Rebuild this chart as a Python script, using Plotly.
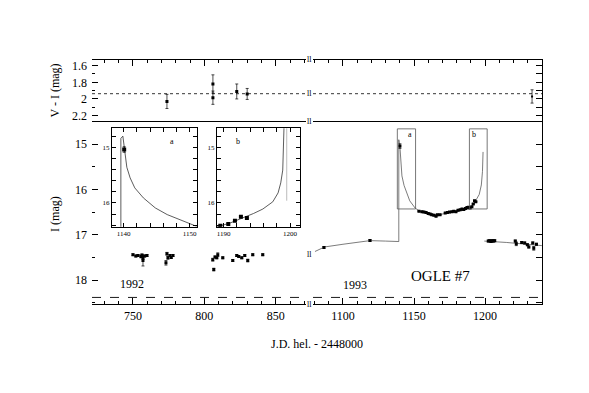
import plotly.graph_objects as go

W, H = 589, 393
FONT = "Liberation Serif"

# ------------------ data ------------------
# V - I colour, 1992 season (left) and 1993 season (right)
vi_jd_92 = [773.8, 806.0, 806.0, 822.7, 830.0]
vi_92 = [2.03, 1.82, 1.985, 1.91, 1.94]
vi_err_92 = [0.085, 0.11, 0.08, 0.09, 0.066]
vi_jd_93 = [1233.1]
vi_93 = [1.97]
vi_err_93 = [0.08]
vi_mean = 1.937

# I photometry, 1992
i_jd_92 = [750.0, 752.0, 753.5, 755.6, 756.3, 757.0, 757.0, 758.2, 759.8,
           773.1, 773.8, 774.5, 775.9, 776.8, 778.0,
           805.9, 806.6, 807.5, 808.7, 809.4, 812.9,
           819.9, 822.7, 824.1, 826.2, 828.3, 830.4, 833.9, 840.9]
i_92 = [17.44, 17.47, 17.46, 17.48, 17.45, 17.51, 17.57, 17.47, 17.46,
        17.62, 17.42, 17.51, 17.46, 17.50, 17.46,
        17.55, 17.77, 17.49, 17.51, 17.44, 17.51,
        17.57, 17.46, 17.48, 17.51, 17.46, 17.57, 17.44, 17.44]
i_err_92 = [0.02, 0.02, 0.02, 0.03, 0.02, 0.03, 0.12, 0.02, 0.02,
            0.05, 0.03, 0.03, 0.02, 0.02, 0.02,
            0.03, 0.03, 0.02, 0.02, 0.04, 0.02,
            0.02, 0.02, 0.02, 0.02, 0.02, 0.03, 0.02, 0.02]

# I photometry, 1993
i_jd_93 = [1086.6, 1119.0, 1140.1,
           1153.5, 1155.6, 1157.0, 1158.5, 1160.0, 1161.3, 1162.5, 1164.0,
           1165.5, 1166.5, 1168.3, 1172.0, 1173.5, 1175.0, 1176.8, 1178.0,
           1179.5, 1181.0, 1182.5, 1183.8, 1185.0, 1186.2, 1187.3, 1188.4,
           1189.5, 1190.7, 1191.7, 1192.6, 1193.5,
           1202.3, 1203.3, 1204.2, 1205.0, 1205.8, 1206.8,
           1221.3, 1222.0, 1225.8, 1227.9, 1229.8, 1230.8, 1233.6, 1234.3, 1236.2]
i_93 = [17.28, 17.125, 15.04,
        16.48, 16.49, 16.50, 16.51, 16.53, 16.54, 16.56, 16.57,
        16.59, 16.56, 16.56, 16.52, 16.51, 16.50, 16.49, 16.48,
        16.49, 16.46, 16.45, 16.43, 16.44, 16.42, 16.40, 16.39,
        16.41, 16.38, 16.32, 16.25, 16.27,
        17.14, 17.13, 17.15, 17.13, 17.14, 17.13,
        17.14, 17.20, 17.17, 17.18, 17.22, 17.27, 17.18, 17.30, 17.21]
i_err_93 = [0.02, 0.02, 0.05] + [0.01] * 29 + [0.02] * 6 + \
           [0.02, 0.04, 0.02, 0.02, 0.02, 0.02, 0.02, 0.04, 0.02]

# binary-lens model, fine sampling (insets)
model_jd = [1139.6, 1139.6, 1139.9, 1140.2, 1140.5, 1141.0, 1141.7, 1143.0, 1144.8,
            1146.6, 1148.6, 1150.8, 1154.0, 1158.0, 1163.0, 1168.0, 1173.0,
            1178.0, 1182.0, 1186.0, 1189.0, 1191.0, 1193.0, 1194.5, 1195.9,
            1197.4, 1198.2, 1198.6, 1198.9, 1199.0, 1199.1, 1199.15]
model_I = [17.15, 14.84, 14.80, 15.11, 15.36, 15.55, 15.73, 15.91, 16.09,
           16.21, 16.30, 16.41, 16.48, 16.52, 16.55, 16.55, 16.53,
           16.50, 16.47, 16.44, 16.43, 16.36, 16.27, 16.19, 16.11,
           15.98, 15.82, 15.64, 15.41, 15.10, 14.66, 14.40]
drop_jd = [1199.5, 1199.5]
drop_I = [14.40, 15.96]

# binary-lens model, coarse sampling (main panel)
main_jd = [1080.3, 1087.0, 1100.0, 1110.0, 1119.0, 1130.0, 1139.3,
           1139.3, 1140.2, 1141.5, 1143.0, 1147.0, 1150.8, 1154.0, 1158.0,
           1163.0, 1168.0, 1173.0, 1178.0, 1182.0, 1186.0, 1189.0, 1191.0,
           1193.0, 1195.9, 1197.4, 1198.2, 1198.6]
main_I = [17.37, 17.27, 17.21, 17.16, 17.13, 17.14, 17.15,
          14.90, 15.11, 15.70, 15.91, 16.25, 16.41, 16.48, 16.52,
          16.55, 16.55, 16.53, 16.50, 16.47, 16.44, 16.43, 16.36,
          16.27, 16.11, 15.90, 15.60, 15.17]
post_jd = [1199.5, 1215.0, 1240.0]
post_I = [17.14, 17.17, 17.24]

baseline_I = 18.385

left_range = [721.3, 871.2]
right_range = [1078.9, 1240.1]
vi_range = [2.27, 1.528]
i_range = [18.54, 14.495]
inset_a_range = [1138.26, 1151.1]
inset_b_range = [1189.0, 1201.5]
inset_i_range = [16.43, 14.66]


# ------------------ helpers ------------------
def pts(x, y, err, xa, ya, size=3.0):
    return go.Scatter(
        x=x, y=y, mode="markers", xaxis=xa, yaxis=ya,
        marker=dict(symbol="square", size=size, color="black"),
        error_y=dict(type="data", array=err, width=1.5, thickness=0.7, color="black"),
        showlegend=False, hoverinfo="skip")


def line(x, y, xa, ya, color="#444444", width=0.7):
    return go.Scatter(x=x, y=y, mode="lines", xaxis=xa, yaxis=ya,
                      line=dict(color=color, width=width),
                      showlegend=False, hoverinfo="skip")


def ax(**kw):
    base = dict(showgrid=False, zeroline=False, ticks="inside", tickcolor="black",
                tickwidth=1, linecolor="black", linewidth=1,
                tickfont=dict(family=FONT, size=12, color="black"))
    base.update(kw)
    return base


def minor(dt, ln=3):
    return dict(dtick=dt, ticklen=ln, ticks="inside", tickcolor="black", tickwidth=1)


left_dom = [92 / W, 306 / W]
right_dom = [313 / W, 542 / W]
vi_dom = [1 - 121 / H, 1 - 59 / H]
i_dom = [1 - 305 / H, 1 - 121 / H]
ins_y_dom = [1 - 227 / H, 1 - 128 / H]

fig = go.Figure()

# V - I
fig.add_trace(pts(vi_jd_92, vi_92, vi_err_92, "x3", "y", size=3))
fig.add_trace(pts(vi_jd_93, vi_93, vi_err_93, "x4", "y3", size=2))

# I, main panels
fig.add_trace(pts(i_jd_92, i_92, i_err_92, "x", "y2"))
fig.add_trace(line(main_jd, main_I, "x2", "y4"))
fig.add_trace(line(post_jd, post_I, "x2", "y4"))
fig.add_trace(pts(i_jd_93, i_93, i_err_93, "x2", "y4"))

# insets
for xa, ya in [("x5", "y5"), ("x6", "y6")]:
    fig.add_trace(line(model_jd, model_I, xa, ya, color="#333333", width=0.8))
    fig.add_trace(line(drop_jd, drop_I, xa, ya, color="#bbbbbb", width=1))
    fig.add_trace(pts(i_jd_93, i_93, i_err_93, xa, ya, size=4))

ins_font = dict(family=FONT, size=7, color="black")

fig.update_layout(
    width=W, height=H,
    margin=dict(l=0, r=0, t=0, b=0),
    paper_bgcolor="white", plot_bgcolor="white",
    showlegend=False,
    xaxis=ax(domain=left_dom, range=left_range, anchor="y2", showline=True,
             dtick=50, ticklen=6, minor=minor(10)),
    xaxis2=ax(domain=right_dom, range=right_range, anchor="y4", showline=True,
              dtick=50, ticklen=6, minor=minor(10)),
    xaxis3=ax(domain=left_dom, range=left_range, matches="x", anchor="y", side="top",
              showline=True, mirror=True, showticklabels=False,
              dtick=50, ticklen=6, minor=minor(10)),
    xaxis4=ax(domain=right_dom, range=right_range, matches="x2", anchor="y3", side="top",
              showline=True, mirror=True, showticklabels=False,
              dtick=50, ticklen=6, minor=minor(10)),
    yaxis=ax(domain=vi_dom, range=vi_range, anchor="x3", showline=False,
             dtick=0.2, ticklen=6, minor=minor(0.1), ticklabelstandoff=4),
    yaxis2=ax(domain=i_dom, range=i_range, anchor="x", showline=False,
              dtick=1, ticklen=6, minor=minor(0.5), ticklabelstandoff=4),
    yaxis3=ax(domain=vi_dom, range=vi_range, matches="y", anchor="x4", side="right",
              showline=True, showticklabels=False, dtick=0.1, ticklen=6),
    yaxis4=ax(domain=i_dom, range=i_range, matches="y2", anchor="x2", side="right",
              showline=True, showticklabels=False, dtick=0.5, ticklen=6),
    xaxis5=ax(domain=[112 / W, 197 / W], range=inset_a_range, anchor="y5",
              showline=True, mirror="ticks", tickvals=[1140, 1150], ticklen=4,
              minor=minor(2, 4), tickfont=ins_font),
    yaxis5=ax(domain=ins_y_dom, range=inset_i_range, anchor="x5",
              showline=True, mirror="ticks", tickvals=[15, 16], ticklen=4,
              minor=minor(0.2, 4), tickfont=ins_font),
    xaxis6=ax(domain=[217 / W, 300 / W], range=inset_b_range, anchor="y6",
              showline=True, mirror="ticks", tickvals=[1190, 1200], ticklen=4,
              minor=minor(2, 4), tickfont=ins_font),
    yaxis6=ax(domain=ins_y_dom, range=inset_i_range, anchor="x6",
              showline=True, mirror="ticks", tickvals=[15, 16], ticklen=4,
              minor=minor(0.2, 4), tickfont=ins_font),
)

# reference lines
fig.add_shape(type="line", xref="x3 domain", yref="y", x0=0, x1=1, y0=vi_mean, y1=vi_mean,
              line=dict(color="black", width=0.8, dash="dot"))
fig.add_shape(type="line", xref="x4 domain", yref="y3", x0=0, x1=1, y0=vi_mean, y1=vi_mean,
              line=dict(color="black", width=0.8, dash="dot"))
fig.add_shape(type="line", xref="x domain", yref="y2", x0=0, x1=1, y0=baseline_I, y1=baseline_I,
              line=dict(color="black", width=0.9, dash="dash"))
fig.add_shape(type="line", xref="x2 domain", yref="y4", x0=0, x1=1, y0=baseline_I, y1=baseline_I,
              line=dict(color="black", width=0.9, dash="dash"))

# inset boxes on the main light curve
for rng in (inset_a_range, inset_b_range):
    fig.add_shape(type="rect", xref="x2", yref="y4", x0=rng[0], x1=rng[1],
                  y0=inset_i_range[0], y1=inset_i_range[1],
                  line=dict(color="#555555", width=0.8))


def note(text, x, y, xref="paper", yref="paper", size=12, angle=0):
    fig.add_annotation(xref=xref, yref=yref, x=x, y=y, text=text, showarrow=False,
                       xanchor="center", yanchor="middle", textangle=angle,
                       font=dict(family=FONT, size=size, color="black"))


note("a", inset_a_range[1] - 4, inset_i_range[1] + 0.13, "x2", "y4", size=8)
note("b", inset_b_range[0] + 3, inset_i_range[1] + 0.13, "x2", "y4", size=8)
note("a", 0.7, 0.87, "x5 domain", "y5 domain", size=8)
note("b", 0.25, 0.87, "x6 domain", "y6 domain", size=8)

# axis break marks
for yref, yv in [("y domain", 1), ("y", vi_mean), ("y domain", 0),
                 ("y2", 17.44), ("y2 domain", 0)]:
    note("ll", 309.5 / W, yv, "paper", yref, size=8)

note("V - I (mag)", 55 / W, 1 - 90 / H, angle=-90)
note("I (mag)", 55 / W, 1 - 214 / H, angle=-90)
note("J.D. hel. - 2448000", 317 / W, 1 - 345 / H)
note("1992", 132 / W, 1 - 284 / H)
note("1993", 355 / W, 1 - 285 / H)
note("OGLE #7", 440 / W, 1 - 276 / H, size=15)

fig.write_html("out.html", config={"displayModeBar": False},
               post_script="document.body.style.margin='0';")
